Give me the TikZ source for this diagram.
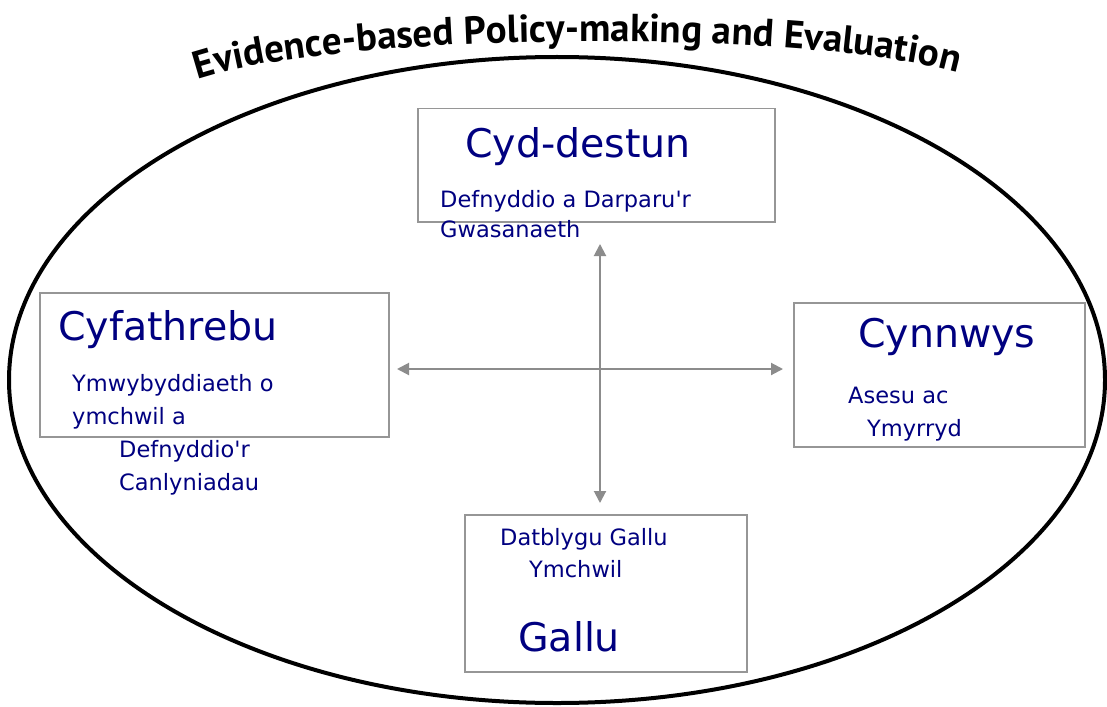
\documentclass[tikz,border=0pt]{standalone}
\usepackage{fontspec}
\setmainfont{DejaVu Sans}
\newfontfamily\titlefont{PT Sans}
\usetikzlibrary{arrows.meta,decorations.text}
\definecolor{txtblue}{RGB}{0,0,128}
\definecolor{boxgray}{RGB}{150,150,150}
\definecolor{arrowgray}{RGB}{140,140,140}
\begin{document}
\begin{tikzpicture}[x=1pt,y=-1pt,
  panel/.style={draw=boxgray, line width=1.5pt, rectangle, inner sep=0pt, anchor=north west},
  head/.style={anchor=base west, inner sep=0pt, text=txtblue, font=\fontsize{39.5}{40}\selectfont},
  sub/.style={anchor=base west, inner sep=0pt, text=txtblue, font=\fontsize{22.5}{24}\selectfont},
  link/.style={draw=arrowgray, line width=2pt, {Triangle[length=12pt,width=12pt]}-{Triangle[length=12pt,width=12pt]}}
]
\useasboundingbox (0,0) rectangle (1107,706);
\fill[white] (0,0) rectangle (1107,706);
% big ellipse
\draw[line width=4pt] (557,380) ellipse [x radius=548, y radius=323];
% curved title
\path[decorate, decoration={text along path, text align=center,
  text={|\titlefont\bfseries\fontsize{39}{39}\selectfont|Evidence-based Policy-making and Evaluation}}]
  (180,86) .. controls (310,28) and (840,28) .. (975,78);
% boxes
\node[panel, minimum width=357pt, minimum height=113pt] (ctx) at (417,108) {};
\node[panel, minimum width=349pt, minimum height=144pt] (com) at (39,292) {};
\node[panel, minimum width=291pt, minimum height=144pt] (cnt) at (793,302) {};
\node[panel, minimum width=282pt, minimum height=157pt] (cap) at (464,514) {};
% texts
\node[head] (t1) at (465,157) {Cyd-destun};
\node[sub] (t1a) at (440,207) {Defnyddio a Darparu\textquotesingle r};
\node[sub] (t1b) at (440,237) {Gwasanaeth};
\node[head] (t2) at (58,340) {Cyfathrebu};
\node[sub] (t2a) at (72,391) {Ymwybyddiaeth o};
\node[sub] (t2b) at (72,424) {ymchwil a};
\node[sub] (t2c) at (119,457) {Defnyddio\textquotesingle r};
\node[sub] (t2d) at (119,490) {Canlyniadau};
\node[head] (t3) at (858,347) {Cynnwys};
\node[sub] (t3a) at (848,403) {Asesu ac};
\node[sub] (t3b) at (867,436) {Ymyrryd};
\node[sub] (t4a) at (500,545) {Datblygu Gallu};
\node[sub] (t4b) at (529,577) {Ymchwil};
\node[head] (t4) at (518,651) {Gallu};
% cross of arrows
\coordinate (up) at (600,244);
\coordinate (down) at (600,503);
\coordinate (lft) at (397,369);
\coordinate (rgt) at (783,369);
\draw[link] (up) -- (down);
\draw[link] (lft) -- (rgt);
\end{tikzpicture}
\end{document}
